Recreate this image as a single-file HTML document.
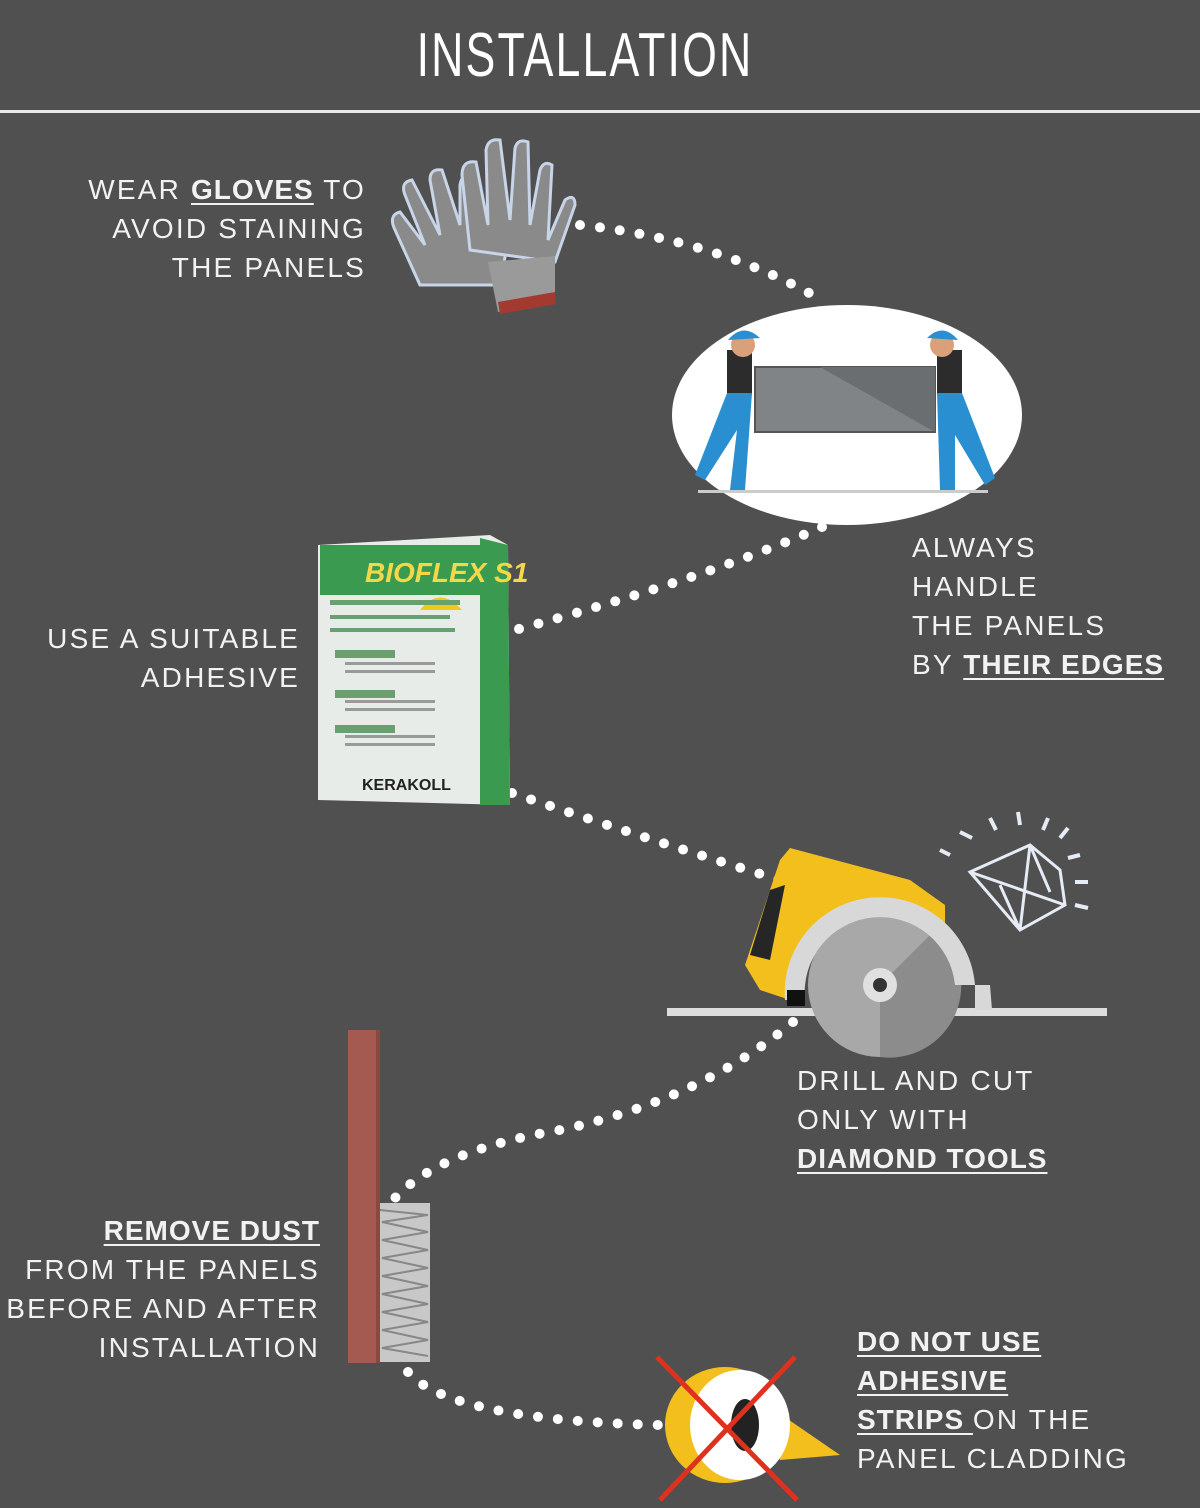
<!DOCTYPE html>
<html><head><meta charset="utf-8"><style>
body{margin:0;background:#505050;}
#c{position:relative;width:1200px;height:1508px;background:#505050;overflow:hidden;font-family:"Liberation Sans",sans-serif;color:#f2f2f2;}
.t{position:absolute;font-size:28px;line-height:39px;letter-spacing:2.2px;white-space:nowrap;}
.r{text-align:right;}
.t b{text-decoration:underline;text-decoration-thickness:2px;text-underline-offset:4px;letter-spacing:1px;}
#title{position:absolute;left:0;width:1170px;top:20px;text-align:center;font-size:62px;color:#fff;font-family:"Liberation Sans Narrow","Liberation Sans",sans-serif;letter-spacing:3px;transform:scaleX(0.72);transform-origin:585px 0;}
svg{position:absolute;left:0;top:0;}
</style></head><body><div id="c">
<svg width="1200" height="1508" viewBox="0 0 1200 1508">
<rect x="0" y="110" width="1200" height="3" fill="#e8e8e8"/>
<g fill="none" stroke="#fff" stroke-width="10" stroke-linecap="round" stroke-dasharray="0 20">
<path d="M580 225 Q720 240 825 302"/>
<path d="M822 527 Q700 580 515 630"/>
<path d="M512 793 Q650 840 780 880"/>
<path d="M793 1022 Q700 1100 560 1130 Q440 1150 395 1198"/>
<path d="M408 1372 Q450 1420 660 1425"/>
</g>
<g stroke="#c8d4e8" stroke-width="3" fill="#8a8a8a">
<path d="M420 285 L395 230 Q388 215 400 212 L425 245 L405 195 Q400 182 412 180 L440 235 L430 180 Q430 168 442 170 L460 225 L460 185 Q462 172 474 176 L480 235 L498 215 Q508 205 512 218 L500 285 Z"/>
<path d="M470 250 L462 175 Q462 160 476 162 L488 225 L486 150 Q488 138 500 140 L510 220 L515 148 Q518 138 528 142 L530 225 L540 170 Q544 160 552 165 L548 240 L565 200 Q575 193 575 205 L555 262 Z"/>
</g>
<path d="M488 262 L555 256 L555 300 L498 312 Z" fill="#9a9a9a"/>
<path d="M498 302 L555 292 L556 304 L500 314 Z" fill="#a33a30"/>
<ellipse cx="847" cy="415" rx="175" ry="110" fill="#fff"/>
<rect x="698" y="490" width="290" height="3" fill="#ccc"/>
<path d="M755 367 L935 367 L935 432 L755 432 Z" fill="#808486" stroke="#555" stroke-width="2"/>
<path d="M820 367 L935 367 L935 432 Z" fill="#6a6e70"/>
<g fill="#2c2c2c"><rect x="727" y="350" width="25" height="45"/><rect x="937" y="350" width="25" height="45"/></g>
<g fill="#2a8fd0"><path d="M727 393 L752 393 L745 490 L730 490 L737 430 L705 480 L695 475 Z"/><path d="M937 393 L962 393 L995 478 L985 485 L955 435 L955 490 L940 490 Z"/></g>
<circle cx="743" cy="345" r="12" fill="#d9a07a"/><circle cx="942" cy="345" r="12" fill="#d9a07a"/>
<path d="M728 340 Q743 322 760 338 Z" fill="#2a8fd0"/><path d="M927 338 Q943 322 958 340 Z" fill="#2a8fd0"/>
<path d="M318 545 L490 535 L508 545 L510 805 L318 800 Z" fill="#e8ece8"/>
<path d="M480 538 L508 545 L510 805 L480 805 Z" fill="#3a9a50"/>
<rect x="320" y="545" width="160" height="50" fill="#3a9a50"/>
<text x="365" y="582" font-size="28" font-weight="bold" font-style="italic" fill="#f5d84a" font-family="Liberation Sans">BIOFLEX S1</text>
<path d="M420 610 Q440 585 462 610 Z" fill="#f2c81a"/>
<g fill="#6aa070"><rect x="330" y="600" width="130" height="5"/><rect x="330" y="615" width="120" height="4"/><rect x="330" y="628" width="125" height="4"/><rect x="335" y="650" width="60" height="8"/><rect x="335" y="690" width="60" height="8"/><rect x="335" y="725" width="60" height="8"/></g>
<g fill="#9a9a9a"><rect x="345" y="662" width="90" height="3"/><rect x="345" y="670" width="90" height="3"/><rect x="345" y="700" width="90" height="3"/><rect x="345" y="708" width="90" height="3"/><rect x="345" y="735" width="90" height="3"/><rect x="345" y="743" width="90" height="3"/></g>
<text x="362" y="790" font-size="16" font-weight="bold" fill="#222" font-family="Liberation Sans">KERAKOLL</text>
<rect x="667" y="1008" width="440" height="8" fill="#ddd"/>
<path d="M745 965 L780 860 L790 848 L910 880 L945 905 L945 935 L820 945 L790 1000 L760 990 Z" fill="#f2bf1c"/>
<path d="M750 955 L770 890 L785 885 L770 960 Z" fill="#262626"/>
<circle cx="880" cy="985" r="72" fill="#a8a8a8"/>
<path d="M880 985 L935 930 A72 72 0 0 1 880 1057 Z" fill="#8c8c8c"/>
<path d="M785 1000 A95 95 0 0 1 975 985 L990 985 L992 1010 L975 1010 L975 985 L955 985 A75 75 0 0 0 805 1000 Z" fill="#d8d8d8"/>
<circle cx="880" cy="985" r="17" fill="#e0e0e0"/><circle cx="880" cy="985" r="7" fill="#333"/>
<rect x="787" y="990" width="18" height="16" fill="#111"/>
<g fill="none" stroke="#e6ecf5" stroke-width="3"><path d="M970 872 L1030 845 L1060 870 L1065 905 L1020 930 Z M970 872 L1065 905 M1030 845 L1020 930 M1030 845 L1050 892 M1000 885 L1020 930"/>
<path d="M960 832 L972 838 M990 818 L996 830 M1018 812 L1020 825 M1048 818 L1043 830 M1068 828 L1060 838 M940 850 L950 855 M1080 855 L1068 858 M1088 882 L1075 882 M1088 908 L1075 905" stroke-width="4"/></g>
<rect x="348" y="1030" width="32" height="333" fill="#a45a50"/>
<rect x="376" y="1030" width="4" height="333" fill="#8a4840"/>
<path d="M380 1203 L430 1203 L430 1362 L380 1362 Z" fill="#c8c8c8"/>
<g stroke="#888" stroke-width="2" fill="none"><path d="M380 1210 L428 1215 L382 1222 L428 1232 L382 1240 L428 1250 L382 1258 L428 1268 L382 1276 L428 1286 L382 1294 L428 1304 L382 1312 L428 1322 L382 1330 L428 1340 L382 1348 L428 1356"/></g>
<path d="M760 1400 L840 1455 L780 1460 Z" fill="#f2bf1c"/>
<ellipse cx="725" cy="1425" rx="60" ry="58" fill="#f2bf1c"/>
<ellipse cx="740" cy="1425" rx="50" ry="55" fill="#fff"/>
<ellipse cx="745" cy="1425" rx="14" ry="26" fill="#222"/>
<g stroke="#e0301e" stroke-width="5"><line x1="657" y1="1357" x2="797" y2="1500"/><line x1="795" y1="1357" x2="660" y2="1500"/></g>
</svg>
<div id="title">INSTALLATION</div>
<div class="t r" style="right:834px;top:170px">WEAR <b>GLOVES</b> TO<br>AVOID STAINING<br>THE PANELS</div>
<div class="t" style="left:912px;top:528px">ALWAYS<br>HANDLE<br>THE PANELS<br>BY <b>THEIR EDGES</b></div>
<div class="t r" style="right:900px;top:619px">USE A SUITABLE<br>ADHESIVE</div>
<div class="t" style="left:797px;top:1061px">DRILL AND CUT<br>ONLY WITH<br><b>DIAMOND TOOLS</b></div>
<div class="t r" style="right:880px;top:1211px"><b>REMOVE DUST</b><br>FROM THE PANELS<br>BEFORE AND AFTER<br>INSTALLATION</div>
<div class="t" style="left:857px;top:1322px"><b>DO NOT USE </b><br><b>ADHESIVE </b><br><b>STRIPS </b>ON THE<br>PANEL CLADDING</div>
</div></body></html>
